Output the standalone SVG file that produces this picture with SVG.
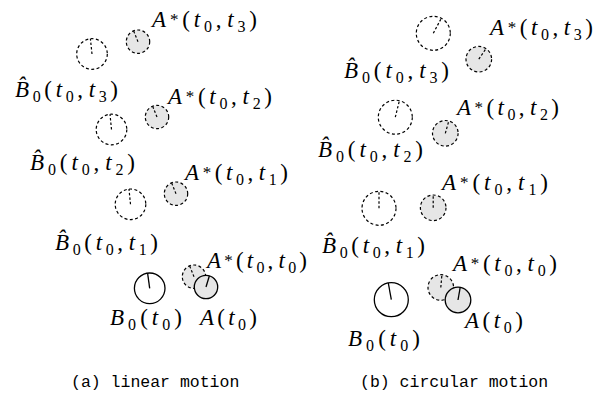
<svg xmlns="http://www.w3.org/2000/svg" width="610" height="407" viewBox="0 0 610 407">
<style>
.d{fill:none;stroke:#000;stroke-width:1.2;stroke-dasharray:3 2.4}
.dg{fill:#e6e6e6;stroke:#000;stroke-width:1.2;stroke-dasharray:3 2.4}
.s{fill:#fff;stroke:#000;stroke-width:1.3}
.sg{fill:#e6e6e6;stroke:#000;stroke-width:1.3}
.tk{stroke:#000;stroke-width:1.2;stroke-dasharray:2.5 2}
.ts{stroke:#000;stroke-width:1.3}
.lb{font-family:"Liberation Serif",serif;font-size:23px;fill:#000}
.i{font-style:italic}
.sb{font-size:16px}
.sp{font-size:17px}
.cap{font-family:"Liberation Mono",monospace;font-size:16.5px;fill:#000}
</style>
<g id="linear">
<g id="a-B3"><circle class="d" cx="92" cy="54" r="15.3"/><line class="tk" x1="92" y1="54" x2="90.4" y2="38.8"/></g>
<g id="a-A3"><circle class="dg" cx="138" cy="41.7" r="11.7"/><line class="tk" x1="138" y1="41.7" x2="133.6" y2="30.9"/></g>
<g id="a-B2"><circle class="d" cx="111.5" cy="129.5" r="15.3"/><line class="tk" x1="111.5" y1="129.5" x2="110" y2="114.3"/></g>
<g id="a-A2"><circle class="dg" cx="157" cy="117" r="11.7"/><line class="tk" x1="157" y1="117" x2="152.6" y2="106.2"/></g>
<g id="a-B1"><circle class="d" cx="130.5" cy="204.3" r="15.3"/><line class="tk" x1="130.5" y1="204.3" x2="129" y2="189"/></g>
<g id="a-A1"><circle class="dg" cx="176" cy="193.7" r="11.7"/><line class="tk" x1="176" y1="193.7" x2="171.6" y2="182.9"/></g>
<g id="a-B0"><circle class="s" cx="149.7" cy="288.3" r="15.3"/><line class="ts" x1="149.7" y1="288.3" x2="147.6" y2="273.2"/></g>
<g id="a-A0s"><circle class="dg" cx="194" cy="276.7" r="11.7"/><line class="tk" x1="194" y1="276.7" x2="189.6" y2="265.9"/></g>
<g id="a-A0"><circle class="sg" cx="206" cy="287" r="11.7"/><line class="ts" x1="206" y1="287" x2="209.4" y2="275.8"/></g>
<g id="a-labels">
<text class="lb" x="152" y="27" textLength="105" lengthAdjust="spacing"><tspan class="i">A</tspan><tspan class="sp" dy="-2">*</tspan><tspan dy="2">(</tspan><tspan class="i">t</tspan><tspan class="sb" dy="5">0</tspan><tspan dy="-5">,</tspan><tspan class="i" dx="2">t</tspan><tspan class="sb" dy="5">3</tspan><tspan dy="-5">)</tspan></text>
<text class="lb" x="15" y="97" textLength="103" lengthAdjust="spacing"><tspan class="i">B&#x302;</tspan><tspan class="sb" dy="5">0</tspan><tspan dy="-5">(</tspan><tspan class="i">t</tspan><tspan class="sb" dy="5">0</tspan><tspan dy="-5">,</tspan><tspan class="i" dx="2">t</tspan><tspan class="sb" dy="5">3</tspan><tspan dy="-5">)</tspan></text>
<text class="lb" x="168" y="104" textLength="104" lengthAdjust="spacing"><tspan class="i">A</tspan><tspan class="sp" dy="-2">*</tspan><tspan dy="2">(</tspan><tspan class="i">t</tspan><tspan class="sb" dy="5">0</tspan><tspan dy="-5">,</tspan><tspan class="i" dx="2">t</tspan><tspan class="sb" dy="5">2</tspan><tspan dy="-5">)</tspan></text>
<text class="lb" x="30" y="169.5" textLength="105" lengthAdjust="spacing"><tspan class="i">B&#x302;</tspan><tspan class="sb" dy="5">0</tspan><tspan dy="-5">(</tspan><tspan class="i">t</tspan><tspan class="sb" dy="5">0</tspan><tspan dy="-5">,</tspan><tspan class="i" dx="2">t</tspan><tspan class="sb" dy="5">2</tspan><tspan dy="-5">)</tspan></text>
<text class="lb" x="185" y="180" textLength="103" lengthAdjust="spacing"><tspan class="i">A</tspan><tspan class="sp" dy="-2">*</tspan><tspan dy="2">(</tspan><tspan class="i">t</tspan><tspan class="sb" dy="5">0</tspan><tspan dy="-5">,</tspan><tspan class="i" dx="2">t</tspan><tspan class="sb" dy="5">1</tspan><tspan dy="-5">)</tspan></text>
<text class="lb" x="55" y="250" textLength="103" lengthAdjust="spacing"><tspan class="i">B&#x302;</tspan><tspan class="sb" dy="5">0</tspan><tspan dy="-5">(</tspan><tspan class="i">t</tspan><tspan class="sb" dy="5">0</tspan><tspan dy="-5">,</tspan><tspan class="i" dx="2">t</tspan><tspan class="sb" dy="5">1</tspan><tspan dy="-5">)</tspan></text>
<text class="lb" x="207" y="268" textLength="100" lengthAdjust="spacing"><tspan class="i">A</tspan><tspan class="sp" dy="-2">*</tspan><tspan dy="2">(</tspan><tspan class="i">t</tspan><tspan class="sb" dy="5">0</tspan><tspan dy="-5">,</tspan><tspan class="i" dx="2">t</tspan><tspan class="sb" dy="5">0</tspan><tspan dy="-5">)</tspan></text>
<text class="lb" x="110" y="325" textLength="72" lengthAdjust="spacing"><tspan class="i">B</tspan><tspan class="sb" dy="5">0</tspan><tspan dy="-5">(</tspan><tspan class="i">t</tspan><tspan class="sb" dy="5">0</tspan><tspan dy="-5">)</tspan></text>
<text class="lb" x="200" y="325" textLength="57" lengthAdjust="spacing"><tspan class="i">A</tspan><tspan>(</tspan><tspan class="i">t</tspan><tspan class="sb" dy="5">0</tspan><tspan dy="-5">)</tspan></text>
</g>
<text class="cap" x="71" y="387">(a) linear motion</text>
</g>
<g id="circular">
<g id="b-B3"><circle class="d" cx="433.3" cy="33.3" r="17"/><line class="tk" x1="433.3" y1="33.3" x2="441.3" y2="18.3"/></g>
<g id="b-A3"><circle class="dg" cx="478.8" cy="59.2" r="12.8"/><line class="tk" x1="478.8" y1="59.2" x2="486" y2="48.6"/></g>
<g id="b-B2"><circle class="d" cx="395.3" cy="117.2" r="17"/><line class="tk" x1="395.3" y1="117.2" x2="399.4" y2="100.7"/></g>
<g id="b-A2"><circle class="dg" cx="445.3" cy="133.3" r="12.8"/><line class="tk" x1="445.3" y1="133.3" x2="448.8" y2="121"/></g>
<g id="b-B1"><circle class="d" cx="379" cy="208.3" r="17"/><line class="tk" x1="379" y1="208.3" x2="379" y2="191.3"/></g>
<g id="b-A1"><circle class="dg" cx="433.2" cy="207.8" r="12.8"/><line class="tk" x1="433.2" y1="207.8" x2="433.2" y2="195"/></g>
<g id="b-B0"><circle class="s" cx="391.3" cy="299.7" r="17"/><line class="ts" x1="391.3" y1="299.7" x2="388.3" y2="283"/></g>
<g id="b-A0s"><circle class="dg" cx="440.8" cy="287.5" r="12.8"/><line class="tk" x1="440.8" y1="287.5" x2="441.9" y2="274.8"/></g>
<g id="b-A0"><circle class="sg" cx="458" cy="300" r="12.8"/><line class="ts" x1="458" y1="300" x2="460.2" y2="287.4"/></g>
<g id="b-labels">
<text class="lb" x="490" y="35" textLength="103" lengthAdjust="spacing"><tspan class="i">A</tspan><tspan class="sp" dy="-2">*</tspan><tspan dy="2">(</tspan><tspan class="i">t</tspan><tspan class="sb" dy="5">0</tspan><tspan dy="-5">,</tspan><tspan class="i" dx="2">t</tspan><tspan class="sb" dy="5">3</tspan><tspan dy="-5">)</tspan></text>
<text class="lb" x="344" y="78" textLength="105" lengthAdjust="spacing"><tspan class="i">B&#x302;</tspan><tspan class="sb" dy="5">0</tspan><tspan dy="-5">(</tspan><tspan class="i">t</tspan><tspan class="sb" dy="5">0</tspan><tspan dy="-5">,</tspan><tspan class="i" dx="2">t</tspan><tspan class="sb" dy="5">3</tspan><tspan dy="-5">)</tspan></text>
<text class="lb" x="457" y="115" textLength="102" lengthAdjust="spacing"><tspan class="i">A</tspan><tspan class="sp" dy="-2">*</tspan><tspan dy="2">(</tspan><tspan class="i">t</tspan><tspan class="sb" dy="5">0</tspan><tspan dy="-5">,</tspan><tspan class="i" dx="2">t</tspan><tspan class="sb" dy="5">2</tspan><tspan dy="-5">)</tspan></text>
<text class="lb" x="318" y="156.5" textLength="105" lengthAdjust="spacing"><tspan class="i">B&#x302;</tspan><tspan class="sb" dy="5">0</tspan><tspan dy="-5">(</tspan><tspan class="i">t</tspan><tspan class="sb" dy="5">0</tspan><tspan dy="-5">,</tspan><tspan class="i" dx="2">t</tspan><tspan class="sb" dy="5">2</tspan><tspan dy="-5">)</tspan></text>
<text class="lb" x="442" y="190" textLength="106" lengthAdjust="spacing"><tspan class="i">A</tspan><tspan class="sp" dy="-2">*</tspan><tspan dy="2">(</tspan><tspan class="i">t</tspan><tspan class="sb" dy="5">0</tspan><tspan dy="-5">,</tspan><tspan class="i" dx="2">t</tspan><tspan class="sb" dy="5">1</tspan><tspan dy="-5">)</tspan></text>
<text class="lb" x="322" y="253" textLength="103" lengthAdjust="spacing"><tspan class="i">B&#x302;</tspan><tspan class="sb" dy="5">0</tspan><tspan dy="-5">(</tspan><tspan class="i">t</tspan><tspan class="sb" dy="5">0</tspan><tspan dy="-5">,</tspan><tspan class="i" dx="2">t</tspan><tspan class="sb" dy="5">1</tspan><tspan dy="-5">)</tspan></text>
<text class="lb" x="453" y="270.5" textLength="104" lengthAdjust="spacing"><tspan class="i">A</tspan><tspan class="sp" dy="-2">*</tspan><tspan dy="2">(</tspan><tspan class="i">t</tspan><tspan class="sb" dy="5">0</tspan><tspan dy="-5">,</tspan><tspan class="i" dx="2">t</tspan><tspan class="sb" dy="5">0</tspan><tspan dy="-5">)</tspan></text>
<text class="lb" x="465" y="328" textLength="58" lengthAdjust="spacing"><tspan class="i">A</tspan><tspan>(</tspan><tspan class="i">t</tspan><tspan class="sb" dy="5">0</tspan><tspan dy="-5">)</tspan></text>
<text class="lb" x="348" y="346" textLength="72" lengthAdjust="spacing"><tspan class="i">B</tspan><tspan class="sb" dy="5">0</tspan><tspan dy="-5">(</tspan><tspan class="i">t</tspan><tspan class="sb" dy="5">0</tspan><tspan dy="-5">)</tspan></text>
</g>
<text class="cap" x="360" y="387">(b) circular motion</text>
</g>
</svg>
